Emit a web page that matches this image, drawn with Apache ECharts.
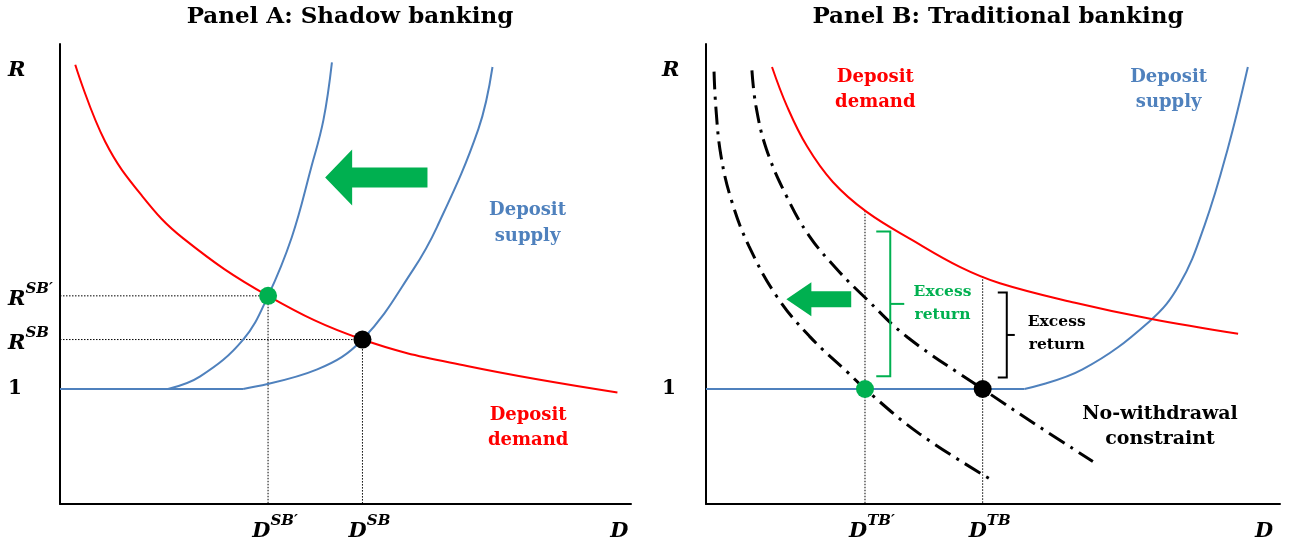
<!DOCTYPE html>
<html><head><meta charset="utf-8">
<script src="https://cdn.jsdelivr.net/npm/echarts@6/dist/echarts.min.js"></script>
<style>html,body{margin:0;padding:0;background:#fff}#c{width:1293px;height:549px}</style>
</head><body><div id="c"></div>
<script>
// ---------- Panel A: Shadow banking (D, R) ----------
const demandA = [[0.27,3.82],[0.80,3.15],[1.45,2.68],[2.18,2.31],[3.68,1.81],[5.35,1.43],[7.20,1.20],[9.86,0.97]];
const supplyA = [[0,1],[3.24,1],[4.55,1.17],[5.35,1.43],[6.25,2.04],[6.67,2.41],[7.40,3.26],[7.65,3.80]];
const supplyShiftA = [[0,1],[1.91,1],[2.48,1.11],[3.24,1.43],[3.68,1.81],[4.10,2.32],[4.44,2.92],[4.66,3.34],[4.81,3.84]];
const eqA = [5.35, 1.43];
const eqShiftA = [3.68, 1.81];
const arrowA = [4.69, 6.50, 2.84];          // tip D, tail D, R
const yTickValsA = [1, 1.43, 1.81, 3.8];
const yTickTextA = ['{n|1}', '{m|R}{s|SB}', '{m|R}{s|SB′}', '{m|R}'];
const xTickValsA = [3.68, 5.35, 9.77];
const xTickTextA = ['{m|D}{s|SB′}', '{m|D}{s|SB}', '{m|D}'];

// ---------- Panel B: Traditional banking ----------
const demandB = [[1.15,3.80],[1.41,3.46],[1.76,3.11],[2.21,2.80],[2.80,2.54],[3.61,2.29],[4.43,2.06],[5.12,1.92],[6.43,1.75],[7.74,1.61],[9.27,1.48]];
const supplyB = [[0,1],[5.55,1],[6.56,1.17],[7.73,1.59],[8.25,1.91],[8.69,2.43],[9.09,3.09],[9.44,3.80]];
const constraintShiftB = [[0.14,3.76],[0.17,3.46],[0.26,3.03],[0.45,2.63],[0.75,2.24],[1.24,1.80],[1.80,1.46],[2.50,1.13],[2.77,1.00],[3.72,0.61],[4.94,0.22]];
const constraintB = [[0.80,3.77],[0.87,3.46],[1.05,3.09],[1.40,2.68],[1.80,2.33],[2.32,2.02],[2.76,1.80],[3.51,1.45],[4.82,1.00],[5.81,0.67],[6.74,0.37]];
const eqB = [4.82, 1.0];
const eqShiftB = [2.77, 1.0];
const guideTopB = [1.98, 2.55];             // demand R above eqB, eqShiftB
const arrowB = [1.40, 2.53, 1.78];
const bracketGreenB = [3.21, 1.11, 2.37];   // D, R low, R high
const bracketBlackB = [5.24, 1.10, 1.84];
const yTickValsB = [1, 3.8];
const yTickTextB = ['{n|1}', '{m|R}'];
const xTickValsB = [2.77, 4.82, 9.6];
const xTickTextB = ['{m|D}{s|TB′}', '{m|D}{s|TB}', '{m|D}'];

const RED = '#FF0000', BLUE = '#4F81BD', GREEN = '#00B050', BLACK = '#000000';
const SERIF = "'DejaVu Serif', serif";
const MATH = "'DejaVu Serif', serif";

const rich = {
  m: {fontFamily: MATH, fontWeight: 'bold', fontStyle: 'italic', fontSize: 21, lineHeight: 28, color: '#000', verticalAlign: 'bottom'},
  s: {fontFamily: MATH, fontWeight: 'bold', fontStyle: 'italic', fontSize: 15, lineHeight: 15, color: '#000', verticalAlign: 'top'},
  n: {fontFamily: MATH, fontWeight: 'bold', fontSize: 20, lineHeight: 28, color: '#000'}
};
function fmt(vals, texts) {
  return function (v) {
    for (let i = 0; i < vals.length; i++) if (Math.abs(vals[i] - v) < 1e-6) return texts[i];
    return '';
  };
}
function arrowRender(head, headHalf, shaftHalf, color) {
  return function (params, api) {
    const tip = api.coord([api.value(0), api.value(2)]);
    const tail = api.coord([api.value(1), api.value(2)]);
    const x = tip[0], y = tip[1], hx = x + head;
    return {type: 'polygon', shape: {points: [[x, y], [hx, y - headHalf], [hx, y - shaftHalf], [tail[0], y - shaftHalf], [tail[0], y + shaftHalf], [hx, y + shaftHalf], [hx, y + headHalf]]}, style: {fill: color}};
  };
}
function bracketRender(endTick, midTick, color) {
  return function (params, api) {
    const top = api.coord([api.value(0), api.value(2)]);
    const bot = api.coord([api.value(0), api.value(1)]);
    const x = top[0], mid = (top[1] + bot[1]) / 2;
    return {type: 'group', children: [
      {type: 'polyline', shape: {points: [[x - endTick, top[1]], [x, top[1]], [x, bot[1]], [x - endTick, bot[1]]]}, style: {stroke: color, lineWidth: 2, fill: null}},
      {type: 'line', shape: {x1: x, y1: mid, x2: x + midTick, y2: mid}, style: {stroke: color, lineWidth: 2}}
    ]};
  };
}
function curve(data, idx, color, width, type, smooth) {
  return {type: 'line', xAxisIndex: idx, yAxisIndex: idx, data: data, showSymbol: false, symbol: 'none',
    smooth: smooth === undefined ? 0.4 : smooth, lineStyle: {color: color, width: width, type: type || 'solid', cap: 'butt'}, z: 3, silent: true};
}
function guide(data, idx) {
  return {type: 'line', xAxisIndex: idx, yAxisIndex: idx, data: data, symbol: 'none', lineStyle: {color: '#000', width: 1, type: [1.5, 1.5]}, z: 2, silent: true};
}
function dot(p, idx, color) {
  return {type: 'scatter', xAxisIndex: idx, yAxisIndex: idx, data: [p], symbolSize: 18, itemStyle: {color: color, opacity: 1}, z: 5, silent: true};
}
function notes(idx, items) {
  return {type: 'scatter', xAxisIndex: idx, yAxisIndex: idx, symbolSize: 1, itemStyle: {color: 'rgba(0,0,0,0)', opacity: 1}, z: 6, silent: true,
    data: items.map(it => ({value: it.at, label: {show: true, position: 'inside', opacity: 1, formatter: it.text, color: it.color, fontFamily: SERIF, fontWeight: 'bold', fontSize: it.size, lineHeight: it.lh, align: 'center', verticalAlign: 'middle'}}))};
}
function xAxisCfg(idx, max, vals, texts) {
  return {type: 'value', gridIndex: idx, min: 0, max: max, splitLine: {show: false}, axisTick: {show: false},
    axisLine: {show: true, onZero: false, lineStyle: {color: '#000', width: 2}},
    axisLabel: {show: true, customValues: vals, formatter: fmt(vals, texts), rich: rich, margin: 10, padding: [0, 0, 0, 14]}};
}
function yAxisCfg(idx, vals, texts, margin) {
  return {type: 'value', gridIndex: idx, min: 0, max: 4, splitLine: {show: false}, axisTick: {show: false},
    axisLine: {show: true, onZero: false, lineStyle: {color: '#000', width: 2}},
    axisLabel: {show: true, customValues: vals, formatter: fmt(vals, texts), rich: rich, margin: margin, align: 'left'}};
}

const chart = echarts.init(document.getElementById('c'));
chart.setOption({
  animation: false,
  backgroundColor: '#fff',
  title: [
    {text: 'Panel A: Shadow banking', left: 345, top: 1, textAlign: 'center', textStyle: {fontFamily: SERIF, fontWeight: 'bold', fontSize: 23, color: '#000'}},
    {text: 'Panel B: Traditional banking', left: 993, top: 1, textAlign: 'center', textStyle: {fontFamily: SERIF, fontWeight: 'bold', fontSize: 23, color: '#000'}}
  ],
  grid: [
    {left: 60, top: 44, width: 571, height: 460},
    {left: 706, top: 44, width: 574, height: 460}
  ],
  xAxis: [xAxisCfg(0, 10.1, xTickValsA, xTickTextA), xAxisCfg(1, 10, xTickValsB, xTickTextB)],
  yAxis: [yAxisCfg(0, yTickValsA, yTickTextA, 52), yAxisCfg(1, yTickValsB, yTickTextB, 44)],
  series: [
    // Panel A
    guide([[0, eqShiftA[1]], eqShiftA, [eqShiftA[0], 0]], 0),
    guide([[0, eqA[1]], eqA, [eqA[0], 0]], 0),
    curve(supplyShiftA.slice(0, 2), 0, BLUE, 2, 'solid', false),
    curve(supplyShiftA.slice(1), 0, BLUE, 2),
    curve(supplyA.slice(0, 2), 0, BLUE, 2, 'solid', false),
    curve(supplyA.slice(1), 0, BLUE, 2),
    curve(demandA, 0, RED, 2),
    dot(eqShiftA, 0, GREEN),
    dot(eqA, 0, BLACK),
    {type: 'custom', xAxisIndex: 0, yAxisIndex: 0, data: [arrowA], encode: {x: [0, 1], y: 2}, renderItem: arrowRender(27, 28, 10, GREEN), z: 4, silent: true},
    notes(0, [
      {at: [8.27, 2.44], text: 'Deposit\nsupply', color: BLUE, size: 18, lh: 26},
      {at: [8.28, 0.66], text: 'Deposit\ndemand', color: RED, size: 18, lh: 25}
    ]),
    // Panel B
    guide([[eqShiftB[0], guideTopB[1]], [eqShiftB[0], 0]], 1),
    guide([[eqB[0], guideTopB[0]], [eqB[0], 0]], 1),
    curve(supplyB.slice(0, 2), 1, BLUE, 2, 'solid', false),
    curve(supplyB.slice(1), 1, BLUE, 2),
    curve(demandB, 1, RED, 2),
    curve(constraintShiftB, 1, BLACK, 3, [18, 7, 3, 7]),
    curve(constraintB, 1, BLACK, 3, [18, 7, 3, 7]),
    dot(eqShiftB, 1, GREEN),
    dot(eqB, 1, BLACK),
    {type: 'custom', xAxisIndex: 1, yAxisIndex: 1, data: [arrowB], encode: {x: [0, 1], y: 2}, renderItem: arrowRender(25, 17, 8, GREEN), z: 4, silent: true},
    {type: 'custom', xAxisIndex: 1, yAxisIndex: 1, data: [bracketGreenB], encode: {x: 0, y: [1, 2]}, renderItem: bracketRender(14, 14, GREEN), z: 4, silent: true},
    {type: 'custom', xAxisIndex: 1, yAxisIndex: 1, data: [bracketBlackB], encode: {x: 0, y: [1, 2]}, renderItem: bracketRender(9, 8, BLACK), z: 4, silent: true},
    notes(1, [
      {at: [2.95, 3.60], text: 'Deposit\ndemand', color: RED, size: 18, lh: 25},
      {at: [8.06, 3.60], text: 'Deposit\nsupply', color: BLUE, size: 18, lh: 25},
      {at: [7.91, 0.67], text: 'No-withdrawal\nconstraint', color: BLACK, size: 19, lh: 25},
      {at: [4.12, 1.74], text: 'Excess\nreturn', color: GREEN, size: 15.5, lh: 23},
      {at: [6.11, 1.48], text: 'Excess\nreturn', color: BLACK, size: 15.5, lh: 23}
    ])
  ]
});
</script>
</body></html>
